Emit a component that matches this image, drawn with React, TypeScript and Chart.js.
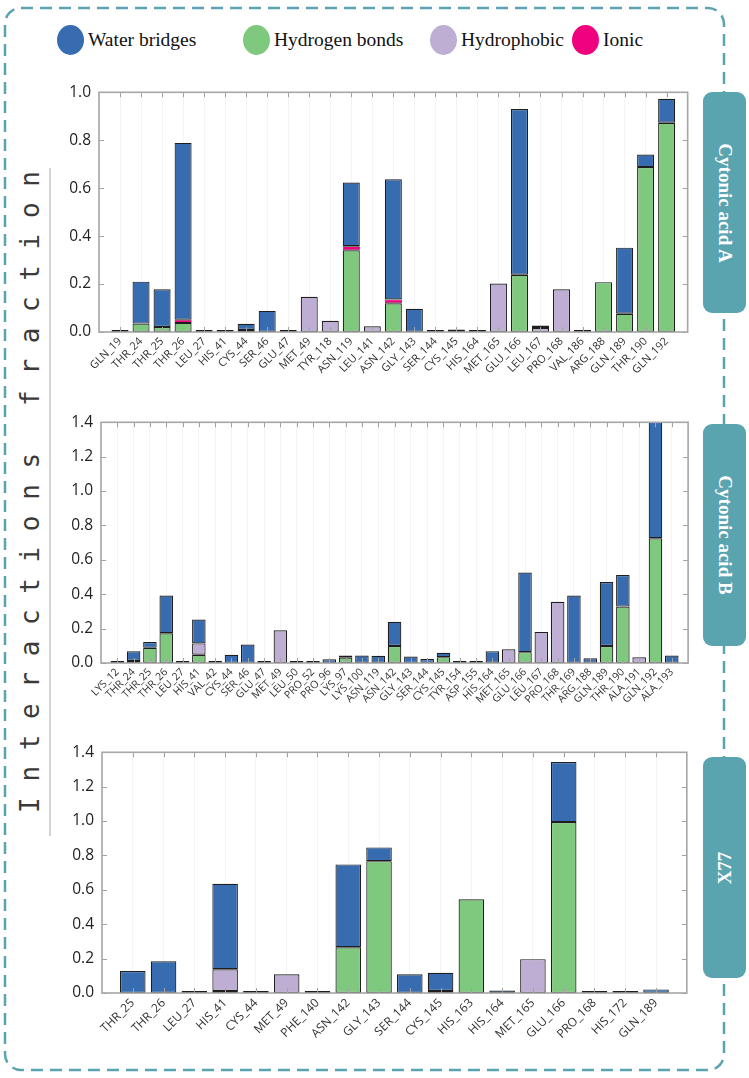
import React, { useEffect, useRef } from 'react';
import { Chart, registerables } from 'chart.js';

Chart.register(...registerables);

const WATER = '#386cb0';
const HBOND = '#7fc97f';
const HYDRO = '#beaed4';
const IONIC = '#f0027f';
const TEAL = '#5aa4b0';

// ---------- Panel A : Cytonic acid A ----------
const residuesA = ['GLN_19', 'THR_24', 'THR_25', 'THR_26', 'LEU_27', 'HIS_41', 'CYS_44', 'SER_46', 'GLU_47', 'MET_49', 'TYR_118', 'ASN_119', 'LEU_141', 'ASN_142', 'GLY_143', 'SER_144', 'CYS_145', 'HIS_164', 'MET_165', 'GLU_166', 'LEU_167', 'PRO_168', 'VAL_186', 'ARG_188', 'GLN_189', 'THR_190', 'GLN_192'];
const hbondA = [null, 0.035, 0.021, 0.038, null, null, 0.006, null, null, null, null, 0.341, null, 0.12, null, null, null, null, null, 0.239, null, null, null, 0.208, 0.076, 0.688, 0.873];
const hydroA = [0.002, null, null, null, 0.002, null, null, null, null, 0.147, 0.047, null, 0.024, null, null, null, null, 0.002, 0.202, null, 0.017, 0.178, 0.002, null, null, null, null];
const ionicA = [null, null, null, 0.013, null, null, null, null, null, null, null, 0.017, null, 0.016, null, null, null, null, null, null, null, null, null, null, null, null, null];
const waterA = [null, 0.175, 0.157, 0.738, null, 0.005, 0.026, 0.088, 0.008, null, null, 0.266, null, 0.501, 0.097, 0.003, 0.01, null, null, 0.691, 0.01, null, null, null, 0.276, 0.052, 0.1];

// ---------- Panel B : Cytonic acid B ----------
const residuesB = ['LYS_12', 'THR_24', 'THR_25', 'THR_26', 'LEU_27', 'HIS_41', 'VAL_42', 'CYS_44', 'SER_46', 'GLU_47', 'MET_49', 'LEU_50', 'PRO_52', 'PRO_96', 'LYS_97', 'LYS_100', 'ASN_119', 'ASN_142', 'GLY_143', 'SER_144', 'CYS_145', 'TYR_154', 'ASP_155', 'HIS_164', 'MET_165', 'GLU_166', 'LEU_167', 'PRO_168', 'THR_169', 'ARG_188', 'GLN_189', 'THR_190', 'ALA_191', 'GLN_192', 'ALA_193'];
const hbondB = [null, 0.012, 0.088, 0.173, null, 0.048, null, null, null, null, null, null, null, null, 0.031, null, null, 0.099, null, null, 0.034, null, null, null, null, 0.063, null, null, null, null, 0.099, 0.328, null, 0.726, null];
const hydroB = [null, null, null, null, 0.002, 0.066, 0.002, null, null, null, 0.19, 0.002, 0.002, null, null, null, null, null, null, null, null, 0.002, 0.002, null, 0.08, null, 0.181, 0.356, null, null, null, null, 0.033, null, null];
const ionicB = [null, null, null, null, null, null, null, null, null, null, null, null, null, null, null, null, null, null, null, null, null, null, null, null, null, null, null, null, null, null, null, null, null, null, null];
const waterB = [0.011, 0.056, 0.034, 0.219, null, 0.139, null, 0.048, 0.107, 0.006, null, null, null, 0.022, 0.012, 0.044, 0.042, 0.141, 0.038, 0.023, 0.026, null, null, 0.069, null, 0.463, null, null, 0.392, 0.027, 0.372, 0.184, null, 0.69, 0.044];

// ---------- Panel C : X77 ----------
const residuesC = ['THR_25', 'THR_26', 'LEU_27', 'HIS_41', 'CYS_44', 'MET_49', 'PHE_140', 'ASN_142', 'GLY_143', 'SER_144', 'CYS_145', 'HIS_163', 'HIS_164', 'MET_165', 'GLU_166', 'PRO_168', 'HIS_172', 'GLN_189'];
const hbondC = [null, null, null, 0.012, null, null, null, 0.266, 0.767, null, 0.012, 0.545, null, null, 0.994, null, null, null];
const hydroC = [null, null, 0.004, 0.126, 0.004, 0.109, 0.004, null, null, null, null, null, null, 0.197, null, 0.004, 0.004, null];
const ionicC = [null, null, null, null, null, null, null, null, null, null, null, null, null, null, null, null, null, null];
const waterC = [0.128, 0.184, null, 0.497, null, null, null, 0.482, 0.08, 0.109, 0.106, null, 0.015, null, 0.35, null, null, 0.021];

const legendItems = [
  { label: 'Water bridges', color: WATER, x: 57 },
  { label: 'Hydrogen bonds', color: HBOND, x: 243 },
  { label: 'Hydrophobic', color: HYDRO, x: 430 },
  { label: 'Ionic', color: IONIC, x: 572 },
];

const pad = (arr: (number | null)[]) => [null, ...arr, null];

const frameTicks = {
  id: 'frameTicks',
  afterDatasetsDraw(chart: any) {
    const { ctx, chartArea: a, scales } = chart;
    const xs = scales.x;
    const ys = scales.y;
    ctx.save();
    ctx.strokeStyle = '#a3a3a3';
    ctx.lineWidth = 1;
    ctx.beginPath();
    const n = xs.ticks.length;
    for (let i = 1; i < n - 1; i++) {
      const px = Math.round(xs.getPixelForTick(i)) + 0.5;
      ctx.moveTo(px, a.top);
      ctx.lineTo(px, a.top + 5);
      ctx.moveTo(px, a.bottom);
      ctx.lineTo(px, a.bottom - 5);
    }
    ys.ticks.forEach((_t: any, i: number) => {
      const py = Math.round(ys.getPixelForTick(i)) + 0.5;
      ctx.moveTo(a.left, py);
      ctx.lineTo(a.left + 5, py);
      ctx.moveTo(a.right, py);
      ctx.lineTo(a.right - 5, py);
    });
    ctx.stroke();
    ctx.lineWidth = 1.6;
    ctx.strokeStyle = '#a6a6a6';
    ctx.strokeRect(a.left, a.top, a.right - a.left, a.bottom - a.top);
    ctx.restore();
  },
};

type Panel = {
  labels: string[];
  hbond: (number | null)[];
  hydro: (number | null)[];
  ionic: (number | null)[];
  water: (number | null)[];
  yMax: number;
  canvas: { left: number; top: number; width: number; height: number };
  area: { left: number; right: number; top: number; bottom: number };
  labelSize: number;
  barPct: number;
};

function BarPanel({ p }: { p: Panel }) {
  const ref = useRef<HTMLCanvasElement | null>(null);
  useEffect(() => {
    if (!ref.current) return;
    const yWidth = p.area.left - p.canvas.left;
    const padTop = p.area.top - p.canvas.top;
    const padRight = p.canvas.left + p.canvas.width - p.area.right;
    const xHeight = p.canvas.top + p.canvas.height - p.area.bottom;
    const common = {
      borderColor: '#1e1e1e',
      borderWidth: 1.2,
      borderSkipped: false,
      minBarLength: 2,
      barPercentage: p.barPct,
      categoryPercentage: 1,
    };
    const chart = new Chart(ref.current, {
      type: 'bar',
      data: {
        labels: ['', ...p.labels, ''],
        datasets: [
          { label: 'Hydrogen bonds', data: pad(p.hbond), backgroundColor: HBOND, ...common },
          { label: 'Hydrophobic', data: pad(p.hydro), backgroundColor: HYDRO, ...common },
          { label: 'Ionic', data: pad(p.ionic), backgroundColor: IONIC, ...common, borderWidth: 0.8 },
          { label: 'Water bridges', data: pad(p.water), backgroundColor: WATER, ...common },
        ],
      } as any,
      options: {
        animation: false,
        responsive: false,
        maintainAspectRatio: false,
        layout: { padding: { top: padTop, right: padRight, left: 0, bottom: 0 } },
        plugins: { legend: { display: false }, tooltip: { enabled: false } },
        scales: {
          x: {
            stacked: true,
            offset: false,
            grid: { offset: false, drawTicks: false, color: 'rgba(0,0,0,0.045)' },
            border: { display: false },
            ticks: {
              autoSkip: false,
              minRotation: 45,
              maxRotation: 45,
              padding: 3,
              color: '#333',
              font: { family: 'Open Sans', size: p.labelSize },
            },
            afterFit: (s: any) => {
              s.height = xHeight;
            },
          },
          y: {
            stacked: true,
            min: 0,
            max: p.yMax,
            grid: { display: false, drawTicks: false },
            border: { display: false },
            ticks: {
              stepSize: 0.2,
              padding: 8,
              color: '#222',
              font: { family: 'Open Sans', size: 15.5 },
              callback: (v: any) => Number(v).toFixed(1),
            },
            afterFit: (s: any) => {
              s.width = yWidth;
            },
          },
        },
      } as any,
      plugins: [frameTicks],
    });
    return () => chart.destroy();
  }, [p]);
  return (
    <canvas
      ref={ref}
      width={p.canvas.width}
      height={p.canvas.height}
      style={{ position: 'absolute', left: p.canvas.left, top: p.canvas.top, width: p.canvas.width, height: p.canvas.height }}
    />
  );
}

const panels: Panel[] = [
  {
    labels: residuesA, hbond: hbondA, hydro: hydroA, ionic: ionicA, water: waterA, yMax: 1.0,
    canvas: { left: 40, top: 75, width: 660, height: 305 },
    area: { left: 99, right: 690, top: 85, bottom: 332 },
    labelSize: 11, barPct: 0.81,
  },
  {
    labels: residuesB, hbond: hbondB, hydro: hydroB, ionic: ionicB, water: waterB, yMax: 1.4,
    canvas: { left: 40, top: 405, width: 660, height: 305 },
    area: { left: 101, right: 689, top: 418, bottom: 663 },
    labelSize: 10.5, barPct: 0.83,
  },
  {
    labels: residuesC, hbond: hbondC, hydro: hydroC, ionic: ionicC, water: waterC, yMax: 1.4,
    canvas: { left: 40, top: 735, width: 660, height: 330 },
    area: { left: 102, right: 687, top: 749, bottom: 993 },
    labelSize: 12, barPct: 0.83,
  },
];

const sideLabels = [
  { text: 'Cytonic acid A', top: 92, height: 221, rot: 90 },
  { text: 'Cytonic acid B', top: 424, height: 222, rot: 90 },
  { text: 'X77', top: 757, height: 221, rot: -90 },
];

export default function App() {
  return (
    <div style={{ position: 'absolute', left: 0, top: 0, width: 749, height: 1078, background: '#fff', overflow: 'hidden' }}>
      <svg width={749} height={1078} style={{ position: 'absolute', left: 0, top: 0 }}>
        <rect x={5} y={8} width={719} height={1062} rx={16} ry={16} fill="none" stroke={TEAL} strokeWidth={2.5} strokeDasharray="12 7" />
        <line x1={50} y1={168} x2={50} y2={836} stroke="#c4c4c4" strokeWidth={1.5} />
      </svg>
      {legendItems.map((it) => (
        <div key={it.label} style={{ position: 'absolute', left: it.x, top: 25, height: 30, display: 'flex', alignItems: 'center', whiteSpace: 'nowrap' }}>
          <div style={{ width: 27, height: 30, borderRadius: '50%', background: it.color, marginRight: 4 }} />
          <span style={{ fontFamily: '"Liberation Serif", serif', fontSize: 19.5, color: '#111' }}>{it.label}</span>
        </div>
      ))}
      <div
        style={{
          position: 'absolute', left: 30, top: 492, width: 0, height: 0,
        }}
      >
        <div
          style={{
            position: 'absolute', left: 0, top: 0,
            transform: 'translate(-50%, -50%) rotate(-90deg)',
            fontFamily: '"DejaVu Sans Mono", monospace', fontSize: 26, color: '#3a3a3a',
            whiteSpace: 'pre', lineHeight: 1,
          }}
        >
          {'I n t e r a c t i o n s   f r a c t i o n'}
        </div>
      </div>
      {panels.map((p, i) => (
        <BarPanel key={i} p={p} />
      ))}
      {sideLabels.map((s) => (
        <div
          key={s.text}
          style={{
            position: 'absolute', left: 703, top: s.top, width: 43, height: s.height,
            background: TEAL, borderRadius: 9,
          }}
        >
          <div
            style={{
              position: 'absolute', left: '50%', top: '50%',
              transform: `translate(-50%, -50%) rotate(${s.rot}deg)`,
              fontFamily: '"Liberation Serif", serif', fontWeight: 'bold', fontSize: 19,
              color: '#fff', whiteSpace: 'nowrap',
            }}
          >
            {s.text}
          </div>
        </div>
      ))}
    </div>
  );
}
